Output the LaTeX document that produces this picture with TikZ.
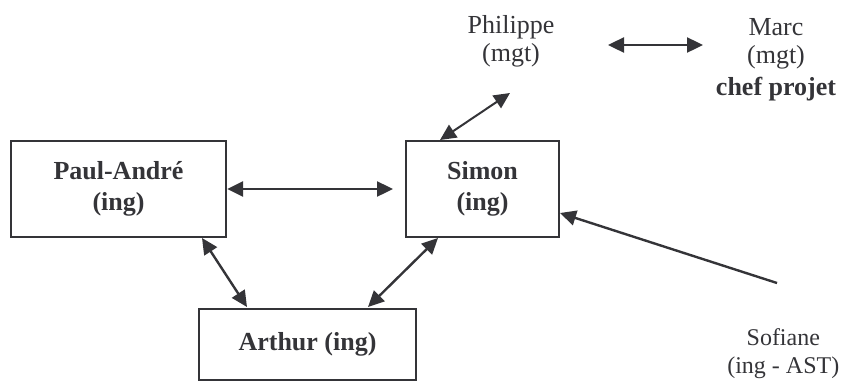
\documentclass[tikz,border=0pt]{standalone}
\usepackage{fontspec}
\setmainfont{Liberation Serif}
\usetikzlibrary{arrows.meta}
\definecolor{ink}{RGB}{52,52,56}
\begin{document}
\begin{tikzpicture}[x=1pt,y=-1pt,
  box/.style={draw=ink,line width=2.3pt,inner sep=0pt,text=ink,align=center,
    font=\fontsize{26}{32}\selectfont\bfseries},
  person/.style={inner sep=0pt,text=ink,align=center,font=\fontsize{26}{28}\selectfont},
  link/.style={draw=ink,line width=2.4pt,{Triangle[length=16pt,width=15pt]}-{Triangle[length=16pt,width=15pt]}},
  onelink/.style={draw=ink,line width=2.4pt,-{Triangle[length=16pt,width=15pt]}}]
\useasboundingbox (0,0) rectangle (841,381);
\node[box,minimum width=215pt,minimum height=96pt] (pa) at (118.5,189) {\raisebox{4pt}{\begin{tabular}{@{}c@{}}Paul-André\\[-1pt](ing)\end{tabular}}};
\node[box,minimum width=153pt,minimum height=96pt] (simon) at (482.5,189) {\raisebox{4pt}{\begin{tabular}{@{}c@{}}Simon\\[-1pt](ing)\end{tabular}}};
\node[box,minimum width=217pt,minimum height=71pt] (arthur) at (307.5,344.5) {\raisebox{7pt}{Arthur (ing)}};
\node[person] (philippe) at (511,41) {Philippe\\(mgt)};
\node[person] (marc) at (776,60) {Marc\\(mgt)\\[4pt]\textbf{chef projet}};
\node[person,font=\fontsize{24}{28}\selectfont,anchor=east] (sofiane) at (839.5,354) {Sofiane\\(ing - AST)};
\coordinate (pas) at (393,189);
\coordinate (paa1) at (202,238);
\coordinate (paa2) at (247,307);
\coordinate (sa1) at (438,238);
\coordinate (sa2) at (368,307);
\coordinate (ps1) at (440,140);
\coordinate (ps2) at (510,93);
\coordinate (pm1) at (608,45);
\coordinate (pm2) at (703,45);
\coordinate (so1) at (777,283);
\coordinate (so2) at (560,213);
\draw[link] (pa.east) -- (pas);
\draw[link] (paa1) -- (paa2);
\draw[link] (sa1) -- (sa2);
\draw[link,line width=2pt] (ps1) -- (ps2);
\draw[link] (pm1) -- (pm2);
\draw[onelink] (so1) -- (so2);
\end{tikzpicture}
\end{document}
